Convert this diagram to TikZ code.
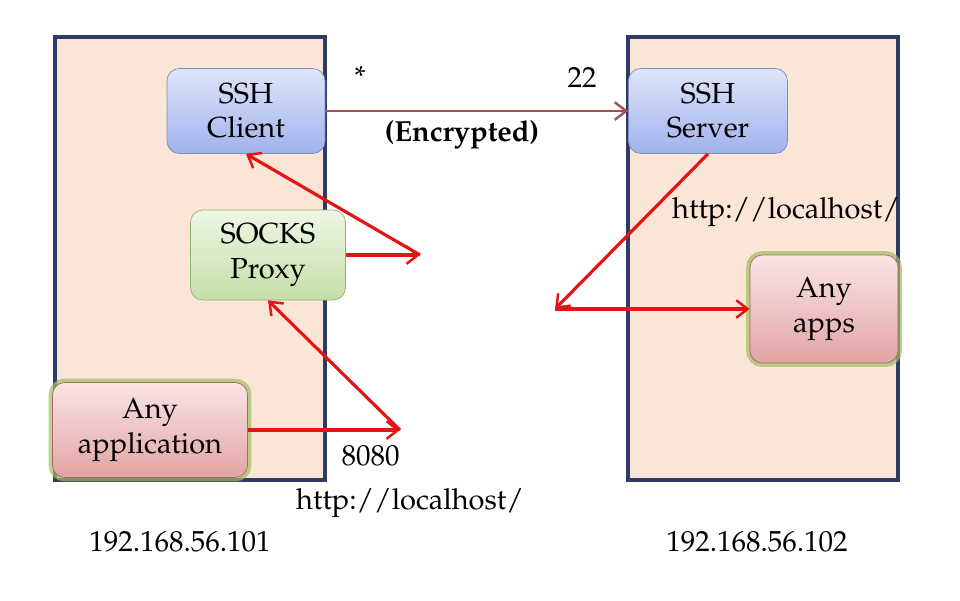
\documentclass[tikz,border=0pt]{standalone}
\usepackage[T1]{fontenc}
\usepackage{mathpazo}
\usetikzlibrary{shapes,arrows,calc,positioning,arrows.meta,backgrounds}
\usepackage{amsmath}
\usepackage{color}

\definecolor{hostfill}{RGB}{251,229,214}
\definecolor{hostline}{RGB}{47,58,102}
\definecolor{tunnel}{RGB}{160,82,82}
\definecolor{flow}{RGB}{228,20,20}
\definecolor{bluetop}{RGB}{222,229,250}
\definecolor{bluebot}{RGB}{160,178,236}
\definecolor{blueline}{RGB}{125,140,180}
\definecolor{greentop}{RGB}{238,246,228}
\definecolor{greenbot}{RGB}{196,222,168}
\definecolor{greenline}{RGB}{148,176,120}
\definecolor{pinktop}{RGB}{251,228,228}
\definecolor{pinkbot}{RGB}{226,164,164}
\definecolor{pinkline}{RGB}{160,110,96}
\definecolor{glow}{RGB}{160,190,100}

\begin{document}
\begin{tikzpicture}[
    x=0.02cm,y=-0.02cm,
    >={Straight Barb[length=6.5pt,width=10pt,line width=1.4pt]},
    host/.style={draw=hostline,line width=1.8pt,fill=hostfill},
    box/.style={rectangle,rounded corners=7pt,align=center,inner sep=0pt,
      font=\fontsize{16.5}{19.5}\selectfont},
    bluebox/.style={box,draw=blueline,top color=bluetop,bottom color=bluebot},
    greenbox/.style={box,draw=greenline,top color=greentop,bottom color=greenbot},
    pinkbox/.style={box,draw=pinkline,top color=pinktop,bottom color=pinkbot,
      preaction={draw=glow,line width=4.5pt,opacity=0.7}},
    txt/.style={font=\fontsize{16.5}{19.5}\selectfont,inner sep=0pt},
    link/.style={->,draw=flow,line width=1.8pt}]
    \useasboundingbox (0,0) rectangle (960,600);

    % the two hosts
    \draw[host] (55,37) rectangle (325,480);
    \draw[host] (628,37) rectangle (898,480);

    \node[bluebox,minimum width=3.16cm,minimum height=1.70cm] (client) at (246,111) {SSH\\Client};
    \node[greenbox,minimum width=3.10cm,minimum height=1.80cm] (proxy) at (268,255) {SOCKS\\Proxy};
    \node[pinkbox,minimum width=3.90cm,minimum height=1.90cm] (app) at (150,430) {Any\\application};
    \node[bluebox,minimum width=3.18cm,minimum height=1.70cm] (server) at (708,111) {SSH\\Server};
    \node[pinkbox,minimum width=2.96cm,minimum height=2.16cm] (apps) at (824,309) {Any\\apps};

    \coordinate (c1) at (420,255);
    \coordinate (c2) at (400,430);
    \coordinate (c3) at (555,309);

    \node[txt] (star) at (360,76) {*};
    \node[txt] (port22) at (582,77) {22};
    \node[txt,font=\fontsize{16.5}{19.5}\selectfont\bfseries] (enc) at (462,135) {(Encrypted)};
    \node[txt] (port8080) [below left=0.3cm and 0cm of c2] {8080};
    \node[txt] (urlL) at (410,503) {http://localhost/};
    \node[txt] (urlR) at (786,212) {http://localhost/};
    \node[txt] (ipL) at (180,542) {192.168.56.101};
    \node[txt] (ipR) at (757,542) {192.168.56.102};

    \draw[->,draw=tunnel,line width=1.6pt] (client) -- (server);
    \draw[link] (proxy.east) -- (c1);
    \draw[link] (c1) -- (client.south);
    \draw[link] (app.east) -- (c2);
    \draw[link] (c2) -- (proxy.south);
    \draw[link] (server.south) -- (c3);
    \draw[link] (c3) -- (apps.west);
\end{tikzpicture}
\end{document}
